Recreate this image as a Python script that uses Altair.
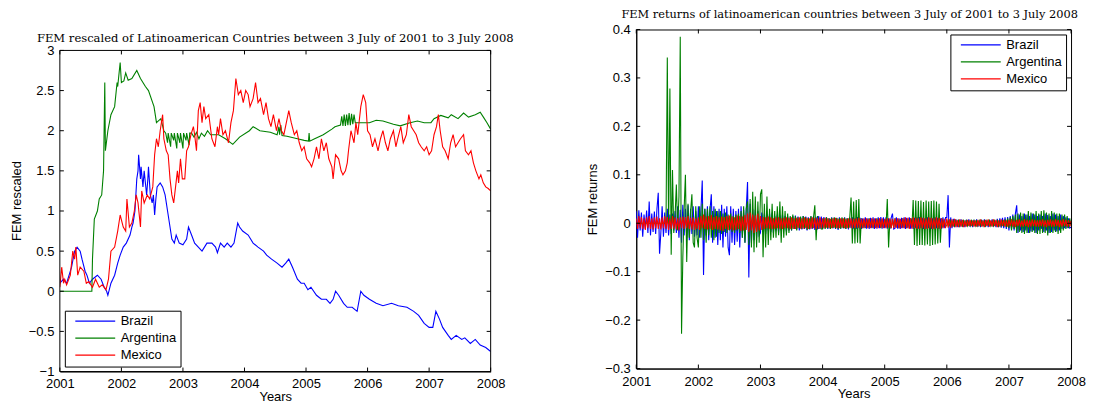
import altair as alt
import pandas as pd

COUNTRIES = ["Brazil", "Argentina", "Mexico"]
COLORS = ["#0000ff", "#008000", "#ff0000"]

X_TICKS = [2001, 2002, 2003, 2004, 2005, 2006, 2007, 2008]
LEVEL_TICKS = [-1, -0.5, 0, 0.5, 1, 1.5, 2, 2.5, 3]
RETURN_TICKS = [-0.3, -0.2, -0.1, 0, 0.1, 0.2, 0.3, 0.4]

# ---------------- FEM rescaled (year, value) ----------------
brazil_level = [
    (2001.00, 0.10), (2001.06, 0.15), (2001.11, 0.10), (2001.17, 0.25), (2001.19, 0.30),
    (2001.24, 0.50), (2001.28, 0.55), (2001.33, 0.50), (2001.36, 0.40), (2001.41, 0.25),
    (2001.44, 0.20), (2001.48, 0.10), (2001.53, 0.15), (2001.61, 0.20), (2001.67, 0.15),
    (2001.72, 0.05), (2001.76, 0.00), (2001.78, -0.05), (2001.83, 0.10), (2001.89, 0.20),
    (2001.94, 0.35), (2001.98, 0.45), (2002.03, 0.55), (2002.08, 0.60), (2002.14, 0.70),
    (2002.17, 0.80), (2002.19, 0.85), (2002.22, 1.00), (2002.25, 1.40), (2002.27, 1.50),
    (2002.28, 1.70), (2002.31, 1.40), (2002.32, 1.55), (2002.35, 1.30), (2002.37, 1.50),
    (2002.41, 1.20), (2002.43, 1.40), (2002.44, 1.55), (2002.47, 1.20), (2002.50, 1.10),
    (2002.52, 1.20), (2002.54, 0.95), (2002.56, 1.15), (2002.58, 1.30), (2002.63, 1.35),
    (2002.67, 1.30), (2002.71, 1.20), (2002.75, 1.00), (2002.78, 0.85), (2002.82, 0.65),
    (2002.86, 0.60), (2002.89, 0.70), (2002.94, 0.60), (2003.00, 0.58), (2003.06, 0.65),
    (2003.09, 0.80), (2003.14, 0.70), (2003.19, 0.60), (2003.25, 0.55), (2003.31, 0.50),
    (2003.39, 0.60), (2003.47, 0.60), (2003.53, 0.55), (2003.56, 0.48), (2003.61, 0.60),
    (2003.67, 0.55), (2003.72, 0.60), (2003.78, 0.55), (2003.83, 0.60), (2003.89, 0.85),
    (2003.92, 0.80), (2003.97, 0.75), (2004.06, 0.70), (2004.14, 0.60), (2004.22, 0.55),
    (2004.31, 0.50), (2004.36, 0.45), (2004.44, 0.40), (2004.53, 0.35), (2004.61, 0.30),
    (2004.67, 0.35), (2004.72, 0.40), (2004.78, 0.30), (2004.86, 0.15), (2004.92, 0.10),
    (2004.97, 0.10), (2005.03, 0.02), (2005.08, 0.05), (2005.17, -0.05), (2005.25, -0.10),
    (2005.33, -0.10), (2005.39, -0.15), (2005.44, -0.10), (2005.48, 0.00), (2005.53, -0.05),
    (2005.61, -0.15), (2005.67, -0.20), (2005.75, -0.20), (2005.83, -0.25), (2005.89, 0.00),
    (2005.94, -0.05), (2006.03, -0.10), (2006.14, -0.15), (2006.25, -0.18), (2006.39, -0.15),
    (2006.50, -0.18), (2006.64, -0.20), (2006.75, -0.25), (2006.83, -0.30), (2006.92, -0.40),
    (2007.00, -0.45), (2007.06, -0.45), (2007.11, -0.25), (2007.17, -0.35), (2007.22, -0.45),
    (2007.31, -0.55), (2007.36, -0.60), (2007.44, -0.55), (2007.53, -0.60), (2007.58, -0.58),
    (2007.67, -0.65), (2007.75, -0.60), (2007.83, -0.67), (2007.92, -0.70), (2008.00, -0.75),
]

argentina_level = [
    (2001.00, 0.00), (2001.52, 0.00), (2001.53, 0.40), (2001.56, 0.90), (2001.61, 1.00),
    (2001.64, 1.15), (2001.68, 1.20), (2001.71, 1.50), (2001.73, 2.60), (2001.74, 1.75),
    (2001.78, 2.00), (2001.83, 2.20), (2001.89, 2.30), (2001.93, 2.60), (2001.94, 2.55),
    (2001.98, 2.85), (2002.00, 2.60), (2002.04, 2.62), (2002.07, 2.72), (2002.11, 2.63),
    (2002.17, 2.65), (2002.25, 2.75), (2002.31, 2.65), (2002.39, 2.55), (2002.44, 2.50),
    (2002.53, 2.30), (2002.57, 2.10), (2002.64, 2.15), (2002.69, 2.00),
    (2002.72, 1.97), (2002.75, 1.85), (2002.76, 1.97), (2002.80, 1.80), (2002.81, 1.97),
    (2002.85, 1.88), (2002.86, 1.97), (2002.90, 1.78), (2002.91, 1.97), (2002.95, 1.85),
    (2002.96, 1.97), (2003.00, 1.78), (2003.01, 1.97), (2003.05, 1.88), (2003.06, 1.97),
    (2003.10, 1.82), (2003.11, 1.97), (2003.14, 1.97),
    (2003.18, 1.92), (2003.22, 1.98), (2003.26, 1.90), (2003.30, 1.97), (2003.35, 1.93),
    (2003.40, 2.00), (2003.45, 1.95),
    (2003.58, 1.95), (2003.69, 1.90), (2003.81, 1.83), (2003.92, 1.92), (2004.08, 2.00),
    (2004.14, 2.05), (2004.25, 2.00), (2004.42, 1.98), (2004.53, 1.95), (2004.56, 2.05),
    (2004.57, 1.95), (2004.59, 2.07), (2004.61, 1.94), (2004.69, 1.93), (2004.86, 1.90),
    (2004.97, 1.88), (2005.04, 1.87), (2005.05, 1.97), (2005.06, 1.87), (2005.14, 1.90),
    (2005.28, 1.95), (2005.42, 2.02), (2005.47, 2.05), (2005.56, 2.07),
    (2005.58, 2.18), (2005.60, 2.06), (2005.62, 2.20), (2005.64, 2.06), (2005.66, 2.20),
    (2005.68, 2.07), (2005.70, 2.22), (2005.72, 2.07), (2005.74, 2.21), (2005.76, 2.08),
    (2005.78, 2.20), (2005.80, 2.10),
    (2005.86, 2.10), (2006.03, 2.10), (2006.14, 2.13), (2006.25, 2.12), (2006.42, 2.08),
    (2006.53, 2.06), (2006.69, 2.10), (2006.81, 2.12), (2006.92, 2.10), (2007.03, 2.10),
    (2007.08, 2.15), (2007.19, 2.19), (2007.31, 2.16), (2007.36, 2.20), (2007.47, 2.15),
    (2007.56, 2.22), (2007.64, 2.17), (2007.75, 2.20), (2007.83, 2.23), (2007.89, 2.16),
    (2007.94, 2.10), (2008.00, 2.02),
]

mexico_level = [
    (2001.00, 0.05), (2001.03, 0.30), (2001.06, 0.10), (2001.08, 0.15), (2001.11, 0.08),
    (2001.17, 0.20), (2001.21, 0.50), (2001.24, 0.40), (2001.26, 0.55), (2001.29, 0.20),
    (2001.33, 0.30), (2001.39, 0.25), (2001.43, 0.10), (2001.47, 0.12), (2001.53, 0.05),
    (2001.58, 0.15), (2001.64, 0.05), (2001.69, 0.08), (2001.75, 0.02), (2001.79, 0.15),
    (2001.83, 0.50), (2001.89, 0.55), (2001.94, 0.75), (2001.98, 0.95), (2002.03, 0.80),
    (2002.07, 0.75), (2002.09, 1.15), (2002.13, 0.80), (2002.17, 0.85), (2002.21, 1.00),
    (2002.24, 1.20), (2002.27, 1.10), (2002.31, 0.80), (2002.33, 1.25), (2002.37, 1.10),
    (2002.42, 1.20), (2002.46, 1.15), (2002.51, 1.30), (2002.54, 1.70), (2002.57, 1.90),
    (2002.60, 1.80), (2002.63, 2.00), (2002.67, 2.20), (2002.69, 1.90), (2002.73, 1.75),
    (2002.76, 1.70), (2002.79, 1.40), (2002.82, 1.20), (2002.85, 1.10), (2002.88, 1.30),
    (2002.91, 1.50), (2002.93, 1.35), (2002.96, 1.65), (2002.99, 1.40), (2003.03, 1.40),
    (2003.06, 1.75), (2003.09, 1.80), (2003.13, 1.95), (2003.17, 2.05), (2003.19, 1.95),
    (2003.22, 1.75), (2003.25, 2.25), (2003.28, 2.35), (2003.31, 2.10), (2003.34, 2.30),
    (2003.37, 2.15), (2003.42, 2.20), (2003.47, 1.90), (2003.52, 1.80), (2003.56, 2.05),
    (2003.58, 1.95), (2003.61, 2.15), (2003.65, 1.95), (2003.69, 2.00), (2003.74, 1.85),
    (2003.78, 2.10), (2003.82, 2.25), (2003.86, 2.65), (2003.90, 2.45), (2003.94, 2.50),
    (2003.98, 2.35), (2004.02, 2.50), (2004.06, 2.45), (2004.09, 2.30), (2004.14, 2.40),
    (2004.18, 2.60), (2004.22, 2.35), (2004.26, 2.40), (2004.31, 2.20), (2004.35, 2.35),
    (2004.39, 2.15), (2004.43, 2.05), (2004.47, 2.20), (2004.52, 2.00), (2004.56, 2.15),
    (2004.60, 2.00), (2004.64, 1.95), (2004.68, 2.10), (2004.72, 2.25), (2004.76, 2.10),
    (2004.81, 1.95), (2004.85, 2.00), (2004.89, 1.85), (2004.93, 1.75), (2004.97, 1.80),
    (2005.01, 1.65), (2005.06, 1.60), (2005.09, 1.55), (2005.13, 1.65), (2005.17, 1.80),
    (2005.21, 1.65), (2005.25, 1.90), (2005.29, 1.75), (2005.33, 1.85), (2005.37, 1.65),
    (2005.42, 1.55), (2005.44, 1.40), (2005.48, 1.70), (2005.53, 1.65), (2005.57, 1.50),
    (2005.60, 1.45), (2005.64, 1.50), (2005.67, 1.60), (2005.69, 1.75), (2005.73, 2.00),
    (2005.78, 1.85), (2005.81, 2.10), (2005.84, 1.95), (2005.89, 2.30), (2005.93, 2.45),
    (2005.97, 2.35), (2006.00, 2.00), (2006.04, 1.95), (2006.08, 1.80), (2006.12, 1.90),
    (2006.17, 1.75), (2006.21, 1.90), (2006.25, 2.00), (2006.29, 1.85), (2006.33, 1.75),
    (2006.37, 1.90), (2006.42, 2.00), (2006.46, 1.80), (2006.49, 1.90), (2006.54, 2.05),
    (2006.58, 1.85), (2006.63, 1.95), (2006.67, 2.20), (2006.71, 2.05), (2006.75, 2.00),
    (2006.79, 1.95), (2006.83, 1.85), (2006.87, 1.80), (2006.92, 1.75), (2006.96, 1.80),
    (2007.00, 1.70), (2007.04, 1.75), (2007.08, 1.95), (2007.12, 2.05), (2007.15, 2.20),
    (2007.18, 2.00), (2007.22, 1.80), (2007.26, 1.75), (2007.31, 1.65), (2007.35, 1.85),
    (2007.39, 1.95), (2007.43, 1.80), (2007.47, 1.85), (2007.51, 1.90), (2007.56, 1.95),
    (2007.59, 1.75), (2007.64, 1.70), (2007.68, 1.75), (2007.72, 1.60), (2007.76, 1.50),
    (2007.81, 1.40), (2007.84, 1.45), (2007.88, 1.35), (2007.92, 1.30), (2007.96, 1.28),
    (2008.00, 1.25),
]

# ---------------- FEM returns in thousandths, sampled 48 times per year ----------------
RET_PER_YEAR = 48
brazil_ret_milli = [
    # 2001
    25, -30, 27, -15, 22, -28, 18, -12, 26, -20, 45, -25, 20, -18, 24, -22,
    30, 63, -63, -20, 35, -28, 22, -20, 30, -25, 18, -22, 20, -15, 25, -20,
    35, -30, 28, -40, 38, -25, 30, -30, 37, -35, 30, -22, 35, -28, 25, -25,
    # 2002
    35, -30, 28, 88, -107, 30, -25, 35, -35, 28, 60, -40, 35, -30, 25, -45,
    30, -35, 38, -50, 30, -28, 35, -50, -66, 35, -40, 30, -45, 25, -38, 30,
    -50, 35, -30, 28, -40, 30, 85, -112, 40, -40, 30, -35, 28, -30, 25, -25,
    # 2003
    -20, 22, -18, 20, -22, 18, -15, 20, -18, 22, -20, 15, -15, 18, -20, 16,
    -15, 18, -12, 15, -17, 14, -15, 12, -15, 15, -12, 16, -13, 14, -15, 12,
    -13, 15, -12, 14, -15, 12, -13, 14, -12, 15, -14, 12, -13, 15, -12, 14,
    # 2004
    -12, 13, -10, 12, -12, 10, -11, 12, -10, 11, -12, 10, -14, 12, -11, 10,
    -10, 12, -11, 10, -13, 11, -10, 12, -11, 10, -12, 13, -10, 11, -12, 10,
    -10, 12, -11, 10, -12, 11, -10, 12, -12, 10, -11, 12, -10, 13, -11, 12,
    # 2005
    -10, 12, -11, 10, -12, 11, 20, -12, -10, 12, -11, 10, -12, 11, -10, 12,
    -12, 11, -10, 12, -11, 10, -12, 11, -10, 12, -11, 13, -10, 11, -12, 10,
    -11, 12, -10, 11, -12, 10, -11, 12, -10, 11, -12, 10, -11, 12, -10, 12,
    # 2006
    12, 58, -50, 12, -10, 9, -8, 8, -8, 7, -8, 8, -7, 6, -8, 7,
    -6, 8, -7, 6, -8, 7, -6, 8, -7, 6, -8, 7, -6, 8, -7, 6,
    -8, 7, -6, 8, -7, 6, -8, 9, -8, 10, -9, 11, -10, 12, -12, 13,
    # 2007
    -15, 15, -12, 18, -15, 20, 37, -20, 18, -15, 15, -18, 20, -15, 18, -20,
    15, -17, 20, -15, 18, -20, 15, -15, 18, -12, 15, -18, 20, -15, 17, -20,
    15, -18, 20, -15, 18, -17, 15, -15, 18, -12, 15, -10, 12, -10, 10, -10,
    # 2008
    -8,
]
argentina_ret_milli = [
    # 2001
    0, 0, 0, 0, 0, 0, 0, 0, 0, 0, 0, 0, 0, 0, 0, 0,
    0, 0, 0, 0, 0, 0, 0, 0, 342, -10, 278, -65, 110, -20, 15, 80,
    -15, 55, 385, -228, -70, 30, 100, -80, 40, -30, 25, 60, -40, -50, 35, -30,
    # 2002
    -50, 35, -30, 40, -35, 30, -40, 30, -25, 35, -30, 25, -35, 30, -28, 25,
    -20, 25, -22, 20, -18, 22, -20, 18, -15, 20, -18, 15, -20, 18, -15, 20,
    -20, 25, -30, 35, -40, 30, 45, -45, 50, -50, 65, -60, 55, -50, 45, -40,
    # 2003
    60, 70, -70, 40, -50, 55, -45, 30, -35, 40, -30, 25, -30, 35, -25, 45,
    -40, 35, -30, 25, -25, 20, -20, 15, -15, 18, -12, 15, -15, 12, -10, 14,
    -12, 15, -10, 12, -14, 10, -12, 15, -10, 12, 37, -35, 15, -12, 10, -12,
    # 2004
    -12, 10, -12, 12, -10, 10, -12, 11, -10, 12, -10, 11, -12, 10, -11, 12,
    -10, 11, -12, 10, -10, 12, 53, -42, 45, -42, 48, -40, 50, -42, 10, -10,
    8, -10, 8, -9, 10, -8, 9, -10, 8, -9, 10, -8, 9, -10, 8, -9,
    # 2005
    8, -8, 50, -50, 8, -10, 8, -8, 10, -8, 8, -10, 8, -8, 10, -9,
    8, -10, 9, -8, 10, -9, 48, -45, 47, -47, 46, -45, 47, -45, 44, -46,
    47, -44, 45, -47, 46, -45, 47, -44, 45, -42, 40, -40, 10, -8, 6, -6,
    # 2006
    -5, 5, -4, 5, -5, 4, -5, 5, -4, 5, -5, 4, -5, 5, -4, 5,
    -5, 4, -5, 5, -4, 5, -5, 4, -5, 5, -4, 5, -5, 4, -5, 5,
    -4, 5, -5, 4, -5, 5, -4, 5, -5, 4, -5, 6, -6, 8, -8, 10,
    # 2007
    -10, 12, -15, 15, -12, 18, -20, 20, -18, 22, -20, 20, -22, 18, -20, 25,
    -20, 22, -18, 20, -20, 25, -22, 20, -22, 25, -20, 27, -20, 22, -25, 20,
    -20, 25, -20, 22, -18, 20, -22, 20, -20, 18, -15, 18, -12, 15, -10, 10,
    # 2008
    -5,
]
mexico_ret_milli = [
    # 2001
    10, -12, 15, -10, 13, -12, 10, -14, 12, -10, 15, -12, 10, -13, 12, -10,
    14, -12, 10, -13, 12, -10, 15, -12, 13, -14, 10, -12, 15, -11, 12, -13,
    10, -15, 12, -10, 14, -12, 13, -10, 15, -12, 11, -13, 12, -14, 10, -12,
    # 2002
    12, -14, 15, -10, 18, -12, 14, -13, 15, -12, 17, -14, 13, -12, 15, -13,
    12, -15, 14, -16, 13, -12, 15, -14, 16, -13, 14, -15, 12, -14, 16, -12,
    15, -16, 14, -15, 17, -14, 20, -18, 22, -15, 18, -20, 16, -18, 20, -15,
    # 2003
    15, -14, 13, -12, 12, -10, 14, -11, 12, -12, 10, -11, 12, -10, 12, -11,
    10, -12, 11, -10, 12, -10, 11, -12, 12, -11, 10, -12, 11, -10, 12, -11,
    10, -11, 12, -10, 11, -12, 10, -11, 12, -10, 11, -12, 10, -11, 12, -10,
    # 2004
    10, -10, 11, -9, 10, -10, 9, -10, 10, -9, 11, -10, 9, -10, 10, -9,
    10, -10, 9, -10, 10, -9, 10, -10, 9, -10, 10, -9, 11, -10, 9, -10,
    10, -9, 10, -10, 9, -10, 10, -9, 10, -10, 9, -10, 10, -9, 10, -10,
    # 2005
    9, -10, 10, -9, 10, -10, 9, -10, 10, -9, 10, -10, 9, -10, 10, -10,
    12, -10, 11, -12, 10, -11, 12, -10, 11, -12, 10, -11, 12, -10, 11, -12,
    10, -11, 12, -10, 11, -12, 10, -11, 12, -10, 11, -12, 10, -10, 9, -10,
    # 2006
    10, -9, 8, -9, 8, -7, 9, -8, 7, -8, 8, -7, 7, -8, 6, -7,
    7, -6, 7, -6, 6, -7, 6, -7, 7, -6, 8, -7, 6, -8, 7, -6,
    8, -7, 6, -7, 8, -6, 7, -8, 6, -7, 8, -6, 7, -7, 6, -7,
    # 2007
    7, -6, 8, -7, 6, -8, 7, -6, 8, -7, 6, -7, 8, -6, 7, -8,
    6, -7, 8, -6, 7, -7, 6, -7, 7, -6, 8, -7, 6, -8, 7, -6,
    8, -7, 6, -7, 8, -6, 7, -8, 6, -7, 8, -6, 7, -7, 6, -7,
    # 2008
    5,
]

LABEL_FONT = "Liberation Sans"
TITLE_FONT = "DejaVu Serif"
LEFT_W, LEFT_BOX_H, LEFT_TOP_GAP = 432, 322, 21
RIGHT_W, RIGHT_H = 436, 340
TICK = 4


def level_df(name, pairs):
    return pd.DataFrame({"year": [p[0] for p in pairs],
                         "value": [p[1] for p in pairs],
                         "country": name})


def ret_df(name, milli):
    return pd.DataFrame({"year": [2001 + i / RET_PER_YEAR for i in range(len(milli))],
                         "value": [m / 1000 for m in milli],
                         "country": name})


def make_legend(orient):
    return alt.Legend(
        title=None, orient=orient, offset=5, fillColor="white", strokeColor="black",
        padding=4, symbolType="M0,0H8", symbolSize=100,
        symbolStrokeWidth=1.2, labelFont=LABEL_FONT, labelFontSize=13,
        labelColor="black", labelOffset=39, rowPadding=3,
    )


def encodings(ydomain, yticks, ytitle, y_domain_line):
    xenc = alt.X("year:Q", scale=alt.Scale(domain=[2001, 2008], nice=False, zero=False),
                 axis=alt.Axis(values=X_TICKS, format="d", title="Years", ticks=False,
                               grid=False, labelPadding=6.5, titlePadding=0,
                               labelFlush=False))
    yenc = alt.Y("value:Q", scale=alt.Scale(domain=ydomain, nice=False, zero=False),
                 axis=alt.Axis(values=yticks, format="~g", title=ytitle, ticks=False,
                               grid=False, labelPadding=6, titlePadding=5,
                               domain=y_domain_line, labelFlush=False))
    return xenc, yenc


def line_layers(series, xenc, yenc, legend):
    color = alt.Color("country:N", scale=alt.Scale(domain=COUNTRIES, range=COLORS),
                      legend=legend)
    return [alt.Chart(df).mark_line(strokeWidth=1.1, clip=True)
            .encode(x=xenc, y=yenc, color=color) for df in series]


# ---------- left panel ----------
left_ymin, left_ymax = LEVEL_TICKS[0], LEVEL_TICKS[-1]
units_per_px = (left_ymax - left_ymin) / LEFT_BOX_H
left_domain = [left_ymin, left_ymax + LEFT_TOP_GAP * units_per_px]
left_h = LEFT_BOX_H + LEFT_TOP_GAP
lx, ly = encodings(left_domain, LEVEL_TICKS, "FEM rescaled", False)

left_layers = line_layers(
    [level_df("Brazil", brazil_level), level_df("Argentina", argentina_level),
     level_df("Mexico", mexico_level)], lx, ly, make_legend("bottom-left"))

lxt = pd.DataFrame({"year": X_TICKS})
lyt = pd.DataFrame({"value": LEVEL_TICKS})
edges_x = pd.DataFrame({"year": [2001, 2008]})
edges_y = pd.DataFrame({"value": [left_ymin, left_ymax]})
rule = dict(color="black", strokeWidth=1)
left_layers += [
    alt.Chart(edges_x).mark_rule(**rule).encode(
        x=lx, y=alt.datum(left_ymin), y2=alt.datum(left_ymax)),
    alt.Chart(edges_y).mark_rule(**rule).encode(
        y=ly, x=alt.datum(2001), x2=alt.datum(2008)),
    alt.Chart(lxt).mark_rule(**rule).encode(
        x=lx, y=alt.value(left_h), y2=alt.value(left_h - TICK)),
    alt.Chart(lxt).mark_rule(**rule).encode(
        x=lx, y=alt.datum(left_ymax), y2=alt.datum(left_ymax - TICK * units_per_px)),
    alt.Chart(lyt).mark_rule(**rule).encode(
        y=ly, x=alt.value(0), x2=alt.value(TICK)),
    alt.Chart(lyt).mark_rule(**rule).encode(
        y=ly, x=alt.value(LEFT_W - TICK), x2=alt.value(LEFT_W)),
]
left_title = alt.TitleParams(
    text="FEM rescaled of Latinoamerican Countries between 3 July of 2001 to 3 July 2008",
    font=TITLE_FONT, fontSize=11.6, fontWeight="normal", color="black",
    offset=-15, anchor="middle")
left = alt.layer(*left_layers).properties(
    width=LEFT_W, height=left_h, title=left_title,
    view=alt.ViewBackground(stroke=None))

# ---------- right panel ----------
rx, ry = encodings([-0.3, 0.4], RETURN_TICKS, "FEM returns", True)
right_layers = line_layers(
    [ret_df("Brazil", brazil_ret_milli), ret_df("Argentina", argentina_ret_milli),
     ret_df("Mexico", mexico_ret_milli)], rx, ry, make_legend("top-right"))
rxt = pd.DataFrame({"year": X_TICKS})
ryt = pd.DataFrame({"value": RETURN_TICKS})
right_layers += [
    alt.Chart(rxt).mark_rule(**rule).encode(
        x=rx, y=alt.value(RIGHT_H), y2=alt.value(RIGHT_H - TICK)),
    alt.Chart(rxt).mark_rule(**rule).encode(
        x=rx, y=alt.value(0), y2=alt.value(TICK)),
    alt.Chart(ryt).mark_rule(**rule).encode(
        y=ry, x=alt.value(0), x2=alt.value(TICK)),
    alt.Chart(ryt).mark_rule(**rule).encode(
        y=ry, x=alt.value(RIGHT_W - TICK), x2=alt.value(RIGHT_W)),
]
right_title = alt.TitleParams(
    text="FEM returns of latinoamerican countries between 3 July of 2001 to 3 July 2008",
    font=TITLE_FONT, fontSize=11.4, fontWeight="normal", color="black",
    offset=3, anchor="middle", dx=-4)
right = alt.layer(*right_layers).properties(
    width=RIGHT_W, height=RIGHT_H, title=right_title,
    view=alt.ViewBackground(stroke="black", strokeWidth=1))

chart = (
    alt.hconcat(left, right, spacing=71)
    .resolve_scale(color="independent")
    .properties(padding={"left": 2, "top": 0, "right": 0, "bottom": 0}, background="white")
    .configure_axis(labelFont=LABEL_FONT, labelFontSize=13, labelColor="black",
                    titleFont=LABEL_FONT, titleFontSize=13, titleFontWeight="normal",
                    titleColor="black", domainColor="black", domainWidth=1)
)

chart.save("out.html", embed_options={"renderer": "svg", "actions": False})
